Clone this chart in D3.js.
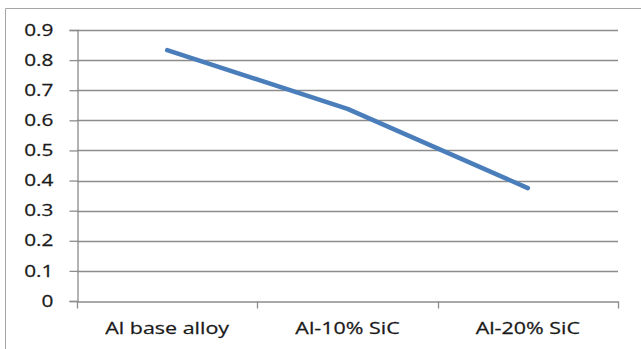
<!DOCTYPE html>
<html><head><meta charset="utf-8">
<script src="https://cdn.jsdelivr.net/npm/d3@7"></script>
<style>body{margin:0;background:#fff}svg{display:block}</style>
</head><body><svg id="c" width="641" height="349"></svg>
<script>
const categories = ["Al base alloy", "Al-10% SiC", "Al-20% SiC"];
const values = [0.833, 0.638, 0.375];
const yTicks = [0, 0.1, 0.2, 0.3, 0.4, 0.5, 0.6, 0.7, 0.8, 0.9];

const svg = d3.select("#c");
const W = 641, H = 349;
const m = {left: 77, right: 23, top: 30, bottom: 48};
const x = d3.scaleBand().domain(categories).range([m.left, W - m.right]);
const y = d3.scaleLinear().domain([0, 0.9]).range([H - m.bottom, m.top]);
const sx = 1.3;

// frame
svg.append("path").attr("d", `M5.5,${H} V8.5 H${W}`).attr("fill", "none").attr("stroke", "#a6a6a6").attr("stroke-width", 1);

// gridlines
svg.append("g").selectAll("line").data(yTicks.filter(d => d > 0)).join("line")
  .attr("x1", m.left).attr("x2", W - m.right)
  .attr("y1", d => Math.round(y(d)) + 0.5).attr("y2", d => Math.round(y(d)) + 0.5)
  .attr("stroke", "#8c8c8c").attr("stroke-width", 1.3);

const font = "'Open Sans', sans-serif";
// y axis
const ya = svg.append("g").attr("transform", `translate(${m.left + 0.5},0)`)
  .call(d3.axisLeft(y).tickValues(yTicks).tickSize(8).tickPadding(10.5).tickFormat(d => d === 0 ? "0" : d3.format(".1f")(d)));
ya.select(".domain").attr("stroke", "#8c8c8c").attr("stroke-width", 1.3);
ya.selectAll(".tick line").attr("stroke", "#8c8c8c").attr("stroke-width", 1.3);
ya.selectAll("text").attr("font-family", font).attr("font-size", 16).attr("fill", "#1a1a1a")
  .attr("stroke", "#1a1a1a").attr("stroke-width", 0.25)
  .attr("transform", `scale(${sx},1)`);

// x axis
const xa = svg.append("g").attr("transform", `translate(0,${Math.round(y(0)) + 0.5})`)
  .call(d3.axisBottom(x).tickSize(0).tickPadding(21));
xa.select(".domain").attr("stroke", "#8c8c8c").attr("stroke-width", 1.3);
xa.selectAll("text").attr("font-family", font).attr("font-size", 16.5).attr("fill", "#1a1a1a")
  .attr("stroke", "#1a1a1a").attr("stroke-width", 0.25)
  .attr("transform", `scale(${sx},1)`);
// category boundary ticks
const bounds = categories.map(c => x(c)).concat([x(categories[categories.length - 1]) + x.bandwidth()]);
xa.append("g").selectAll("line").data(bounds).join("line")
  .attr("x1", d => Math.round(d) + 0.5).attr("x2", d => Math.round(d) + 0.5)
  .attr("y1", 0).attr("y2", 7).attr("stroke", "#8c8c8c").attr("stroke-width", 1.3);

// line
const line = d3.line().x((d, i) => x(categories[i]) + x.bandwidth() / 2).y(d => y(d));
svg.append("path").datum(values).attr("d", line).attr("fill", "none")
  .attr("stroke", "#4a7ebb").attr("stroke-width", 4.5).attr("stroke-linecap", "round").attr("stroke-linejoin", "round");
</script></body></html>
